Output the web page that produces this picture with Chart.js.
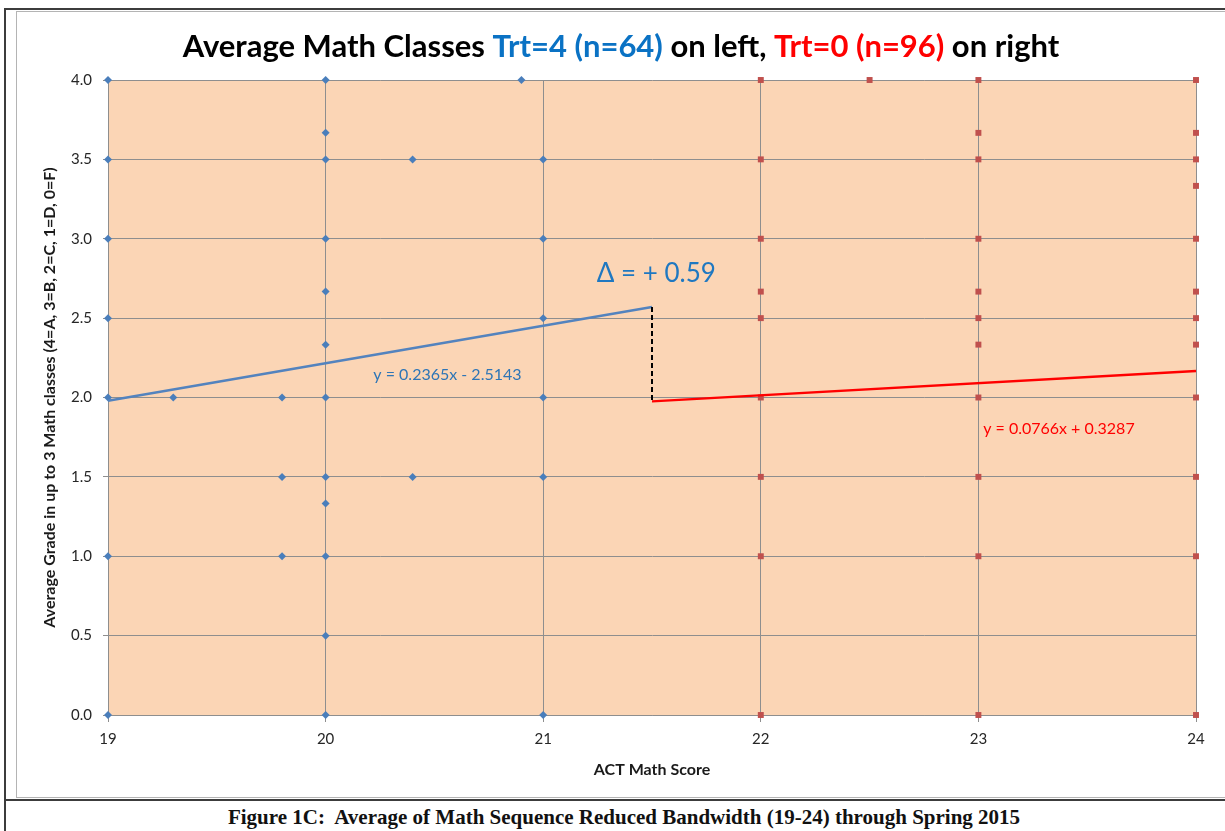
<!DOCTYPE html>
<html>
<head>
<meta charset="utf-8">
<script src="https://cdn.jsdelivr.net/npm/chart.js@4.4.1/dist/chart.umd.min.js"></script>
<style>
  html, body { margin: 0; padding: 0; background: #fff; }
  body { width: 1225px; height: 831px; position: relative; overflow: hidden; }
  #outerLeft { position: absolute; left: 4px; top: 9px; width: 2px; height: 822px; background: #3c3c3c; }
  #outerTop { position: absolute; left: 4px; top: 8px; width: 1221px; height: 2px; background: #3c3c3c; }
  #inner { position: absolute; left: 16px; top: 11px; width: 1220px; height: 785px; border: 1px solid #b4b4b4; border-right: none; }
  #outerBottom { position: absolute; left: 4px; top: 799px; width: 1221px; height: 2px; background: #3c3c3c; }
  #caption { position: absolute; left: 0; top: 805px; width: 1248px; text-align: center;
    font-family: "Liberation Serif", "DejaVu Serif", serif; font-weight: bold; font-size: 21px; color: #111; white-space: pre; }
  #chart { position: absolute; left: 0; top: 0; }
</style>
</head>
<body>
<div id="outerLeft"></div>
<div id="outerTop"></div>
<div id="inner"></div>
<div id="outerBottom"></div>
<div id="caption">Figure 1C:  Average of Math Sequence Reduced Bandwidth (19-24) through Spring 2015</div>
<canvas id="chart" width="1225" height="800"></canvas>
<script>
// --- DATOS ---
// Trt=4 (izquierda)
const leftX = [19, 19, 19, 19, 19, 19, 19,
  19.3,
  19.8, 19.8, 19.8,
  20, 20, 20, 20, 20, 20, 20, 20, 20, 20, 20, 20,
  20.4, 20.4,
  20.9,
  21, 21, 21, 21, 21, 21];
const leftY = [4, 3.5, 3, 2.5, 2, 1, 0,
  2,
  2, 1.5, 1,
  4, 3.667, 3.5, 3, 2.667, 2.333, 2, 1.5, 1.333, 1, 0.5, 0,
  3.5, 1.5,
  4,
  3.5, 3, 2.5, 2, 1.5, 0];

// Trt=0 (derecha)
const rightX = [22, 22, 22, 22, 22, 22, 22, 22, 22,
  22.5,
  23, 23, 23, 23, 23, 23, 23, 23, 23, 23, 23,
  24, 24, 24, 24, 24, 24, 24, 24, 24, 24, 24, 24];
const rightY = [4, 3.5, 3, 2.667, 2.5, 2, 1.5, 1, 0,
  4,
  4, 3.667, 3.5, 3, 2.667, 2.5, 2.333, 2, 1.5, 1, 0,
  4, 3.667, 3.5, 3.333, 3, 2.667, 2.5, 2.333, 2, 1.5, 1, 0];

// lineas de tendencia (coeficientes del grafico)
const leftFit = { slope: 0.2365, intercept: -2.5143, from: 19, to: 21.5 };
const rightFit = { slope: 0.0766, intercept: 0.3287, from: 21.5, to: 24 };
const cutoff = 21.5;

const xTicks = [19, 20, 21, 22, 23, 24];
const yTicks = [0, 0.5, 1, 1.5, 2, 2.5, 3, 3.5, 4];

const toPoints = (xs, ys) => xs.map((x, i) => ({ x: x, y: ys[i] }));
const fitLine = f => [
  { x: f.from, y: f.slope * f.from + f.intercept },
  { x: f.to, y: f.slope * f.to + f.intercept }
];
const leftLine = fitLine(leftFit);
const rightLine = fitLine(rightFit);

const FONT = 'Lato, "Open Sans", "Liberation Sans", sans-serif';
const GRID = '#8e8e8e';

// fondo del area de trazado
const plotBg = {
  id: 'plotBg',
  beforeDraw(chart) {
    const { ctx, chartArea: a } = chart;
    ctx.save();
    ctx.fillStyle = '#fbd5b5';
    ctx.fillRect(a.left, a.top, a.right - a.left, a.bottom - a.top);
    ctx.restore();
  }
};

// titulo multicolor y anotaciones
const labels = {
  id: 'labels',
  afterDraw(chart) {
    const { ctx, scales: { x, y } } = chart;
    ctx.save();
    const parts = [
      ['Average Math Classes ', '#000000'],
      ['Trt=4 (n=64)', '#0a72c4'],
      [' on left, ', '#000000'],
      ['Trt=0 (n=96)', '#ff0000'],
      [' on right', '#000000']
    ];
    ctx.font = 'bold 31px ' + FONT;
    ctx.textBaseline = 'middle';
    ctx.textAlign = 'left';
    const total = parts.reduce((s, p) => s + ctx.measureText(p[0]).width, 0);
    let cx = 621 - total / 2;
    parts.forEach(p => {
      ctx.fillStyle = p[1];
      ctx.fillText(p[0], cx, 47);
      cx += ctx.measureText(p[0]).width;
    });

    ctx.textAlign = 'center';
    ctx.font = '16px ' + FONT;
    ctx.fillStyle = '#2e75b6';
    ctx.fillText('y = 0.2365x - 2.5143', x.getPixelForValue(20.56), y.getPixelForValue(2.142));
    ctx.fillStyle = '#ff0000';
    ctx.fillText('y = 0.0766x + 0.3287', x.getPixelForValue(23.37), y.getPixelForValue(1.80));
    ctx.font = '26px ' + FONT;
    ctx.fillStyle = '#1f78c1';
    ctx.fillText('\u0394 = + 0.59', x.getPixelForValue(21.52), y.getPixelForValue(2.78));
    ctx.restore();
  }
};

new Chart(document.getElementById('chart'), {
  type: 'scatter',
  data: {
    datasets: [
      {
        label: 'gap',
        type: 'line',
        data: [{ x: cutoff, y: leftLine[1].y }, { x: cutoff, y: rightLine[0].y }],
        borderColor: '#000000',
        borderWidth: 2,
        borderDash: [5, 3],
        pointRadius: 0,
        fill: false
      },
      {
        label: 'fitLeft',
        type: 'line',
        data: leftLine,
        borderColor: '#5383be',
        borderWidth: 2.5,
        pointRadius: 0,
        fill: false,
        clip: false
      },
      {
        label: 'fitRight',
        type: 'line',
        data: rightLine,
        borderColor: '#ff0000',
        borderWidth: 2.5,
        pointRadius: 0,
        fill: false,
        clip: false
      },
      {
        label: 'Trt=4',
        data: toPoints(leftX, leftY),
        pointStyle: 'rectRot',
        pointRadius: 4,
        backgroundColor: '#4a7ebb',
        borderColor: '#4a7ebb',
        borderWidth: 0,
        clip: false
      },
      {
        label: 'Trt=0',
        data: toPoints(rightX, rightY),
        pointStyle: 'rect',
        pointRadius: 4.2,
        backgroundColor: '#c0504d',
        borderColor: '#c0504d',
        borderWidth: 0,
        clip: false
      }
    ]
  },
  options: {
    responsive: false,
    animation: false,
    events: [],
    layout: { padding: { top: 80, right: 29, left: 0, bottom: 0 } },
    plugins: {
      legend: { display: false },
      title: { display: false },
      tooltip: { enabled: false }
    },
    scales: {
      x: {
        type: 'linear',
        min: 19,
        max: 24,
        afterFit: s => { s.height = 85; },
        afterBuildTicks: s => { s.ticks = xTicks.map(v => ({ value: v })); },
        grid: { color: GRID, lineWidth: 1, tickLength: 7 },
        border: { color: GRID, width: 1 },
        ticks: { color: '#262626', padding: 8, font: { family: FONT, size: 15 }, maxRotation: 0 },
        title: {
          display: true,
          text: 'ACT Math Score',
          color: '#1a1a1a',
          font: { family: FONT, size: 16, weight: 'bold' },
          padding: { top: 0, bottom: 21 }
        }
      },
      y: {
        type: 'linear',
        min: 0,
        max: 4,
        afterFit: s => { s.width = 108; },
        afterBuildTicks: s => { s.ticks = yTicks.map(v => ({ value: v })); },
        grid: { color: GRID, lineWidth: 1, tickLength: 5 },
        border: { color: GRID, width: 1 },
        ticks: {
          color: '#262626',
          padding: 11,
          font: { family: FONT, size: 15 },
          callback: v => v.toFixed(1)
        },
        title: {
          display: true,
          text: 'Average Grade in up to 3 Math classes (4=A, 3=B, 2=C, 1=D, 0=F)',
          color: '#1a1a1a',
          font: { family: FONT, size: 16, weight: 'bold' },
          padding: { top: 40, bottom: 0 }
        }
      }
    }
  },
  plugins: [plotBg, labels]
});
</script>
</body>
</html>
